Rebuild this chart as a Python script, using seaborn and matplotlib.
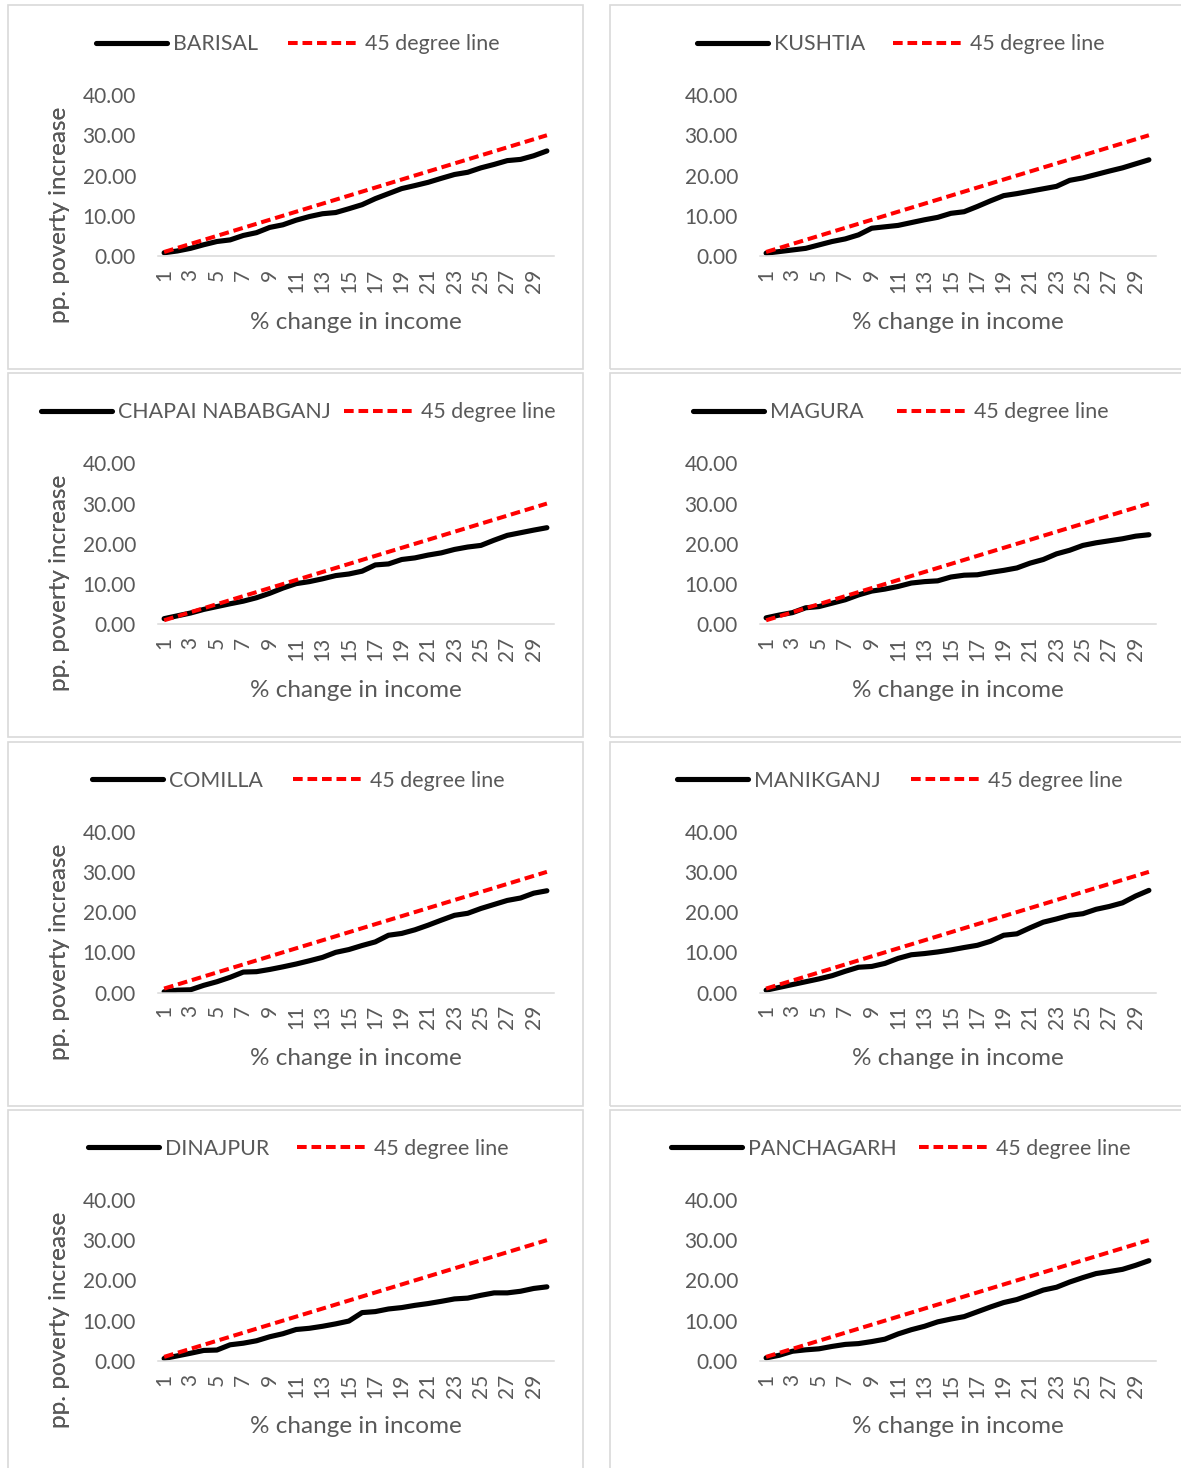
import matplotlib
matplotlib.use("Agg")
import matplotlib.pyplot as plt
from matplotlib.patches import Rectangle
from matplotlib.lines import Line2D
import numpy as np
import pandas as pd
import seaborn as sns

# ---- data -------------------------------------------------------------
income_change = list(range(1, 31))
tick_labels = [str(v) for v in range(1, 31, 2)]
degree45 = [1, 2, 3, 4, 5, 6, 7, 8, 9, 10, 11, 12, 13, 14, 15,
            16, 17, 18, 19, 20, 21, 22, 23, 24, 25, 26, 27, 28, 29, 30]

barisal = [0.8, 1.25, 1.9, 2.8, 3.6, 4.0, 5.1, 5.8, 7.1, 7.75,
           8.9, 9.8, 10.5, 10.8, 11.75, 12.75, 14.25, 15.5, 16.75, 17.5,
           18.3, 19.3, 20.25, 20.8, 21.9, 22.75, 23.7, 24.0, 24.9, 26.1]
kushtia = [0.7, 1.1, 1.5, 1.9, 2.75, 3.6, 4.25, 5.25, 6.9, 7.25,
           7.6, 8.3, 9.0, 9.6, 10.6, 11.0, 12.3, 13.7, 15.0, 15.5,
           16.1, 16.7, 17.3, 18.8, 19.4, 20.25, 21.1, 21.9, 22.9, 23.9]
chapai = [1.4, 2.1, 2.8, 3.7, 4.4, 5.1, 5.75, 6.6, 7.7, 9.0,
          10.1, 10.6, 11.3, 12.1, 12.5, 13.2, 14.75, 15.0, 16.1, 16.5,
          17.2, 17.75, 18.6, 19.2, 19.6, 20.9, 22.1, 22.75, 23.4, 24.0]
magura = [1.6, 2.3, 2.9, 4.1, 4.4, 5.25, 6.1, 7.3, 8.25, 8.75,
          9.4, 10.25, 10.6, 10.8, 11.75, 12.2, 12.3, 12.9, 13.4, 14.0,
          15.2, 16.1, 17.5, 18.4, 19.6, 20.25, 20.75, 21.25, 21.9, 22.25]
comilla = [0.2, 0.6, 0.7, 1.8, 2.7, 3.8, 5.1, 5.2, 5.75, 6.4,
           7.1, 7.9, 8.75, 10.0, 10.7, 11.7, 12.6, 14.25, 14.7, 15.6,
           16.75, 18.0, 19.2, 19.7, 20.9, 21.9, 22.9, 23.5, 24.7, 25.3]
manikganj = [0.6, 1.3, 2.0, 2.7, 3.4, 4.2, 5.3, 6.3, 6.5, 7.25,
             8.5, 9.4, 9.7, 10.1, 10.6, 11.2, 11.75, 12.75, 14.25, 14.6,
             16.1, 17.5, 18.3, 19.2, 19.6, 20.7, 21.4, 22.3, 24.0, 25.4]
dinajpur = [0.6, 1.25, 1.9, 2.6, 2.7, 4.0, 4.4, 5.0, 6.0, 6.75,
            7.8, 8.1, 8.6, 9.2, 9.9, 12.0, 12.25, 12.9, 13.25, 13.8,
            14.25, 14.8, 15.4, 15.6, 16.3, 16.9, 16.9, 17.3, 18.0, 18.4]
panchagarh = [0.75, 1.4, 2.4, 2.75, 3.0, 3.6, 4.1, 4.3, 4.8, 5.4,
              6.7, 7.75, 8.6, 9.7, 10.4, 11.0, 12.2, 13.4, 14.5, 15.25,
              16.4, 17.6, 18.3, 19.6, 20.7, 21.7, 22.2, 22.75, 23.75, 24.9]

districts = ["BARISAL", "KUSHTIA", "CHAPAI NABABGANJ", "MAGURA",
             "COMILLA", "MANIKGANJ", "DINAJPUR", "PANCHAGARH"]
series = [barisal, kushtia, chapai, magura, comilla, manikganj, dinajpur, panchagarh]

# ---- style --------------------------------------------------------------
sns.set_theme(style="white")
plt.rcParams["font.family"] = ["Lato", "DejaVu Sans"]
TEXT = "#595959"
GRID = "#d9d9d9"
FS = 15          # tick labels
FS_LEG = 15.4    # legend entries
FS_LAB = 17.5    # axis titles

W, H = 1181, 1468
fig = plt.figure(figsize=(W / 100, H / 100), dpi=100)

col_left = [157.5, 759.5]       # axes left edge (px)
axes_w = 396.0
row_zero = [256.0, 624.3, 992.6, 1360.9]   # y pixel of value 0
axes_h = 161.0
box_x = [(7.5, 582.5), (609.5, 1195.0)]
box_top = [5.0, 373.3, 741.6, 1109.9]
box_h = 364.0

# legend placement per panel: left edge of each entry's handle (px)
leg_first = [96, 697, 41, 693, 92, 677, 88, 671]
leg_second = [288, 893, 344, 897, 293, 911, 297, 919]

dashes = (2.4, 1.2)
fs_px = FS_LEG * 100 / 72

for i, (name, vals) in enumerate(zip(districts, series)):
    r, c = divmod(i, 2)

    # panel frame
    bx0, bx1 = box_x[c]
    fig.patches.append(Rectangle((bx0 / W, 1 - (box_top[r] + box_h) / H),
                                 (bx1 - bx0) / W, box_h / H,
                                 transform=fig.transFigure, fill=False,
                                 edgecolor=GRID, linewidth=1.2, zorder=0))

    ax = fig.add_axes([col_left[c] / W, 1 - row_zero[r] / H,
                       axes_w / W, axes_h / H])
    ax.patch.set_alpha(0)

    df = pd.DataFrame({"x": income_change, "district": vals, "ref": degree45})
    sns.lineplot(data=df, x="x", y="ref", ax=ax, color="#ff0000",
                 linewidth=2.9, zorder=3)
    ax.lines[-1].set_dashes(dashes)
    sns.lineplot(data=df, x="x", y="district", ax=ax, color="black",
                 linewidth=3.7, zorder=2, solid_capstyle="round",
                 solid_joinstyle="round")

    ax.set_xlim(0.5, 30.5)
    ax.set_ylim(0, 40)
    ax.set_yticks([0, 10, 20, 30, 40])
    ax.set_yticklabels([f"{v:.2f}" for v in [0, 10, 20, 30, 40]])
    ax.set_xticks(list(range(1, 31, 2)))
    ax.set_xticklabels(tick_labels, rotation=90)
    ax.tick_params(axis="y", length=0, pad=15.5, labelsize=FS, labelcolor=TEXT)
    ax.tick_params(axis="x", length=0, pad=9, labelsize=FS, labelcolor=TEXT)
    for s in ["top", "right", "left"]:
        ax.spines[s].set_visible(False)
    ax.spines["bottom"].set_color(GRID)
    ax.spines["bottom"].set_linewidth(1.1)
    ax.grid(False)

    ax.set_xlabel("% change in income", fontsize=FS_LAB, color=TEXT)
    ax.xaxis.label.set_va("center")
    ax.xaxis.set_label_coords(0.5, -0.41)
    ax.set_ylabel("pp. poverty increase", fontsize=FS_LAB, color=TEXT)
    ax.yaxis.label.set_va("center")
    ax.yaxis.set_label_coords((60 - col_left[c]) / axes_w, 0.255)

    cy = box_top[r] + 39
    entries = [
        (Line2D([], [], color="black", linewidth=3.7), name, leg_first[i]),
        (Line2D([], [], color="#ff0000", linewidth=2.9, dashes=dashes),
         "45 degree line", leg_second[i]),
    ]
    for handle, label, x0 in entries:
        fig.legend([handle], [label], loc="center left",
                   bbox_to_anchor=(x0 / W, 1 - cy / H), frameon=False,
                   fontsize=FS_LEG, labelcolor=TEXT, handlelength=71 / fs_px,
                   handletextpad=6 / fs_px, borderpad=0, borderaxespad=0)

fig.savefig("out.png", dpi=100, facecolor="white")
